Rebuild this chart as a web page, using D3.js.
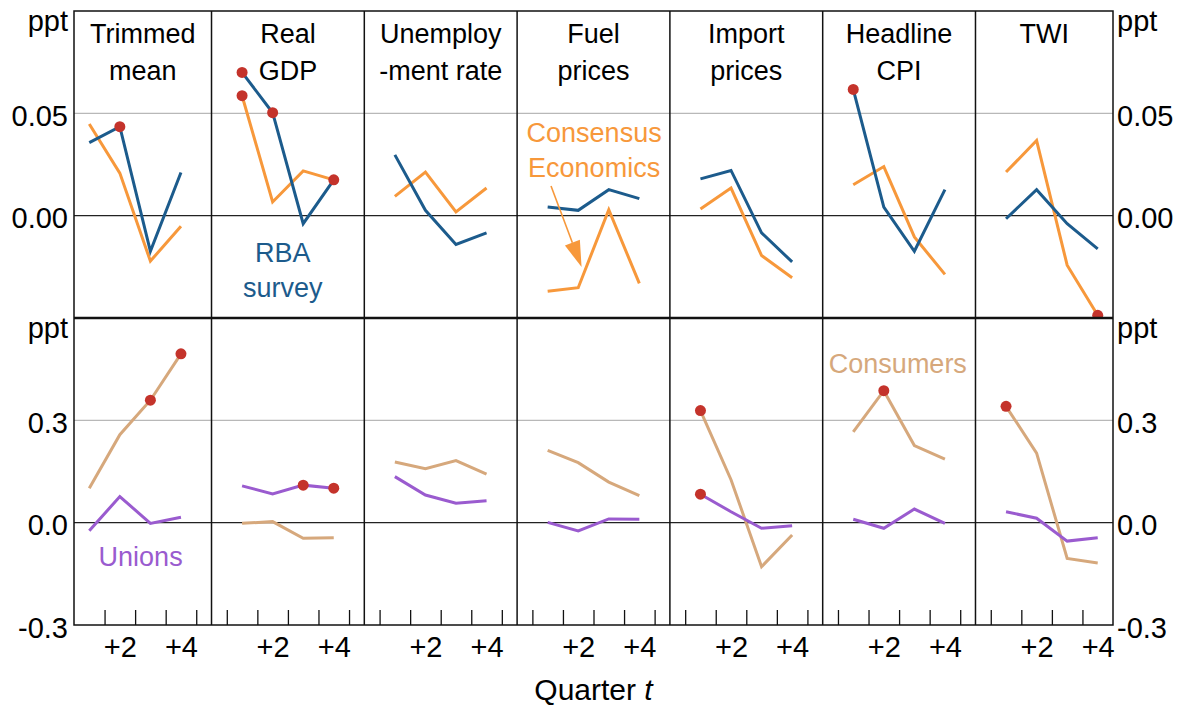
<!DOCTYPE html>
<html>
<head>
<meta charset="utf-8">
<script src="https://cdn.jsdelivr.net/npm/d3@7"></script>
<style>
  html, body { margin: 0; padding: 0; background: #ffffff; }
  svg text { font-family: "Liberation Sans", Arial, sans-serif; }
</style>
</head>
<body>
<svg id="chart" width="1183" height="706"></svg>
<script>
// ---- data ----
const panelTitles = [
  ["Trimmed", "mean"],
  ["Real", "GDP"],
  ["Unemploy", "-ment rate"],
  ["Fuel", "prices"],
  ["Import", "prices"],
  ["Headline", "CPI"],
  ["TWI"]
];
const quarters = [1, 2, 3, 4];
const xTickLabels = ["+2", "+4"];
const xTickLabelQuarters = [2, 4];

// Top row (ppt): RBA survey and Consensus Economics
const rbaSurvey = [
  [0.0357, 0.0435, -0.0174, 0.0211],
  [0.0700, 0.0503, -0.0039, 0.0175],
  [0.0297, 0.0026, -0.0141, -0.0084],
  [0.0042, 0.0026, 0.0127, 0.0083],
  [0.0180, 0.0221, -0.0084, -0.0226],
  [0.0617, 0.0042, -0.0174, 0.0127],
  [-0.0015, 0.0127, -0.0039, -0.0162]
];
const consensusEconomics = [
  [0.0448, 0.0208, -0.0222, -0.0052],
  [0.0586, 0.0067, 0.0219, 0.0175],
  [0.0094, 0.0213, 0.0018, 0.0135],
  [-0.0369, -0.0352, 0.0029, -0.0331],
  [0.0033, 0.0135, -0.0195, -0.0303],
  [0.0151, 0.0240, -0.0104, -0.0287],
  [0.0213, 0.0367, -0.0242, -0.0487]
];
// Bottom row (ppt): Consumers and Unions
const consumers = [
  [0.101, 0.258, 0.359, 0.495],
  [-0.002, 0.003, -0.046, -0.044],
  [0.178, 0.158, 0.182, 0.142],
  [0.212, 0.176, 0.119, 0.079],
  [0.3285, 0.126, -0.129, -0.036],
  [0.266, 0.387, 0.226, 0.186],
  [0.341, 0.204, -0.105, -0.118]
];
const unions = [
  [-0.0235, 0.0765, -0.002, 0.016],
  [0.108, 0.084, 0.110, 0.101],
  [0.135, 0.081, 0.057, 0.064],
  [0.001, -0.024, 0.011, 0.010],
  [0.0835, 0.032, -0.0165, -0.009],
  [0.010, -0.0165, 0.040, -0.002],
  [0.032, 0.013, -0.054, -0.044]
];
// highlighted points: [panel, quarter index]
const rbaMarkers = [[0, 1], [1, 0], [1, 1], [1, 3], [5, 0]];
const consensusMarkers = [[1, 0], [6, 3]];
const consumersMarkers = [[0, 2], [0, 3], [4, 0], [5, 1], [6, 0]];
const unionsMarkers = [[1, 2], [1, 3], [4, 0]];

const topTicks = [0, 0.05];
const bottomTicks = [-0.3, 0, 0.3];

// ---- layout ----
const left = 74, right = 1113;
const rowTop = 11, rowMid = 318, rowBot = 625;
const nPanels = panelTitles.length;
const FONT = "'Liberation Sans', Arial, sans-serif";

const colors = {
  rba: "#1c5b8c",
  consensus: "#f7983b",
  consumers: "#d6a87c",
  unions: "#9a5bcf",
  marker: "#c4332b"
};

const svg = d3.select("#chart");
const x = d3.scaleLinear().domain([0.5, nPanels * 5 - 0.5]).range([left, right]);
const yTop = d3.scaleLinear().domain([-0.05, 0.10]).range([rowMid, rowTop]);
const yBot = d3.scaleLinear().domain([-0.3, 0.6]).range([rowBot, rowMid]);
const px = (p, q) => x(p * 5 + q);

const defs = svg.append("defs");
defs.append("clipPath").attr("id", "clipTop").append("rect")
  .attr("x", left).attr("y", rowTop).attr("width", right - left).attr("height", rowMid - rowTop);
defs.append("clipPath").attr("id", "clipBot").append("rect")
  .attr("x", left).attr("y", rowMid).attr("width", right - left).attr("height", rowBot - rowMid);

// gridlines
function grid(y, vals, color, width) {
  svg.append("g").selectAll("line").data(vals).join("line")
    .attr("x1", left).attr("x2", right)
    .attr("y1", d => y(d)).attr("y2", d => y(d))
    .attr("stroke", color).attr("stroke-width", width);
}
grid(yTop, [0.05], "#b8b8b8", 1.2);
grid(yBot, [0.3], "#b8b8b8", 1.2);
grid(yTop, [0], "#222", 1.3);
grid(yBot, [0], "#222", 1.3);

// x axis tick marks (inner)
const tickVals = d3.range(1, nPanels * 5 - 1).map(k => k + 0.5);
svg.append("g").attr("transform", `translate(0,${rowBot})`)
  .call(d3.axisBottom(x).tickValues(tickVals).tickSizeInner(-15).tickSizeOuter(0).tickFormat(""))
  .call(g => g.select(".domain").remove())
  .call(g => g.selectAll("line").attr("stroke", "#111").attr("stroke-width", 1.3));

// x tick labels
const labelVals = [];
for (let p = 0; p < nPanels; p++) xTickLabelQuarters.forEach((q, i) => labelVals.push({v: p * 5 + q, t: xTickLabels[i]}));
svg.append("g").attr("transform", `translate(0,${rowBot})`)
  .call(d3.axisBottom(x).tickValues(labelVals.map(d => d.v)).tickSize(0).tickPadding(0)
    .tickFormat((d, i) => labelVals[i].t))
  .call(g => g.select(".domain").remove())
  .call(g => g.selectAll("text").attr("font-size", 29).attr("fill", "#000")
    .attr("font-family", FONT).attr("y", 32).attr("dy", "0"));

// y axes left/right
function yAxis(scale, vals, fmt, side) {
  const ax = side === "left" ? d3.axisLeft(scale) : d3.axisRight(scale);
  svg.append("g").attr("transform", `translate(${side === "left" ? left : right},0)`)
    .call(ax.tickValues(vals).tickSize(0).tickPadding(side === "left" ? 6 : 4).tickFormat(fmt))
    .call(g => g.select(".domain").remove())
    .call(g => g.selectAll("text").attr("font-size", 29).attr("fill", "#000")
      .attr("font-family", FONT).attr("dy", "0.42em"));
}
const fmtTop = d => d.toFixed(2);
const fmtBot = d => d.toFixed(1);
["left", "right"].forEach(side => {
  yAxis(yTop, topTicks, fmtTop, side);
  yAxis(yBot, bottomTicks, fmtBot, side);
  [rowTop, rowMid].forEach(r => {
    svg.append("text")
      .attr("x", side === "left" ? left - 6 : right + 4)
      .attr("y", r + 20)
      .attr("text-anchor", side === "left" ? "end" : "start")
      .attr("font-size", 29).text("ppt");
  });
});

// series
const lineGen = (yScale) => d3.line().x(d => px(d.p, d.q)).y(d => yScale(d.v));
function drawSeries(data, yScale, color, clip) {
  const g = svg.append("g").attr("clip-path", `url(#${clip})`);
  data.forEach((vals, p) => {
    const pts = vals.map((v, i) => ({p, q: quarters[i], v}));
    g.append("path").datum(pts).attr("d", lineGen(yScale))
      .attr("fill", "none").attr("stroke", color).attr("stroke-width", 3)
      .attr("stroke-linejoin", "miter");
  });
}
function drawMarkers(data, markers, yScale, clip) {
  svg.append("g").attr("clip-path", `url(#${clip})`).selectAll("circle").data(markers).join("circle")
    .attr("cx", d => px(d[0], quarters[d[1]]))
    .attr("cy", d => yScale(data[d[0]][d[1]]))
    .attr("r", 5.5).attr("fill", colors.marker);
}
drawSeries(consensusEconomics, yTop, colors.consensus, "clipTop");
drawSeries(rbaSurvey, yTop, colors.rba, "clipTop");
drawSeries(consumers, yBot, colors.consumers, "clipBot");
drawSeries(unions, yBot, colors.unions, "clipBot");
drawMarkers(rbaSurvey, rbaMarkers, yTop, "clipTop");
drawMarkers(consensusEconomics, consensusMarkers, yTop, "clipTop");
drawMarkers(consumers, consumersMarkers, yBot, "clipBot");
drawMarkers(unions, unionsMarkers, yBot, "clipBot");

// panel dividers and frames
const divs = d3.range(1, nPanels).map(p => x(p * 5));
svg.append("g").selectAll("line").data(divs).join("line")
  .attr("x1", d => d).attr("x2", d => d).attr("y1", rowTop).attr("y2", rowBot)
  .attr("stroke", "#111").attr("stroke-width", 1.5);
svg.append("rect").attr("x", left).attr("y", rowTop).attr("width", right - left).attr("height", rowBot - rowTop)
  .attr("fill", "none").attr("stroke", "#111").attr("stroke-width", 1.5);
svg.append("line").attr("x1", left).attr("x2", right).attr("y1", rowMid).attr("y2", rowMid)
  .attr("stroke", "#111").attr("stroke-width", 2.5);

// panel titles
panelTitles.forEach((lines, p) => {
  const x0 = Math.max(x(p * 5), left), x1 = Math.min(x(p * 5 + 5), right);
  const cx = (x0 + x1) / 2;
  lines.forEach((t, i) => {
    svg.append("text").attr("x", cx).attr("y", 43 + i * 37)
      .attr("text-anchor", "middle").attr("font-size", 27).attr("fill", "#000").text(t);
  });
});

// annotations
function label(lines, xv, y0, color) {
  lines.forEach((t, i) => {
    svg.append("text").attr("x", xv).attr("y", y0 + i * 35)
      .attr("text-anchor", "middle").attr("font-size", 27).attr("fill", color).text(t);
  });
}
label(["RBA", "survey"], x(7.33), 262, colors.rba);
label(["Consensus", "Economics"], x(17.52), 142, colors.consensus);
label(["Consumers"], x(27.46), 373, colors.consumers);
label(["Unions"], x(2.68), 566, colors.unions);

// arrow for Consensus Economics
const ax0 = [x(16.11), 186], ax1 = [x(17.11), 267];
const ang = Math.atan2(ax1[1] - ax0[1], ax1[0] - ax0[0]);
const hl = 26, hw = 8;
const base = [ax1[0] - hl * Math.cos(ang), ax1[1] - hl * Math.sin(ang)];
svg.append("line").attr("x1", ax0[0]).attr("y1", ax0[1]).attr("x2", base[0]).attr("y2", base[1])
  .attr("stroke", colors.consensus).attr("stroke-width", 1.6);
svg.append("path").attr("d", d3.line()([
  ax1,
  [base[0] + hw * Math.sin(ang), base[1] - hw * Math.cos(ang)],
  [base[0] - hw * Math.sin(ang), base[1] + hw * Math.cos(ang)]
]) + "Z").attr("fill", colors.consensus);

// x axis title
const xt = svg.append("text").attr("x", (left + right) / 2).attr("y", 700)
  .attr("text-anchor", "middle").attr("font-size", 30).attr("fill", "#000");
xt.append("tspan").text("Quarter ");
xt.append("tspan").attr("font-style", "italic").text("t");
</script>
</body>
</html>
